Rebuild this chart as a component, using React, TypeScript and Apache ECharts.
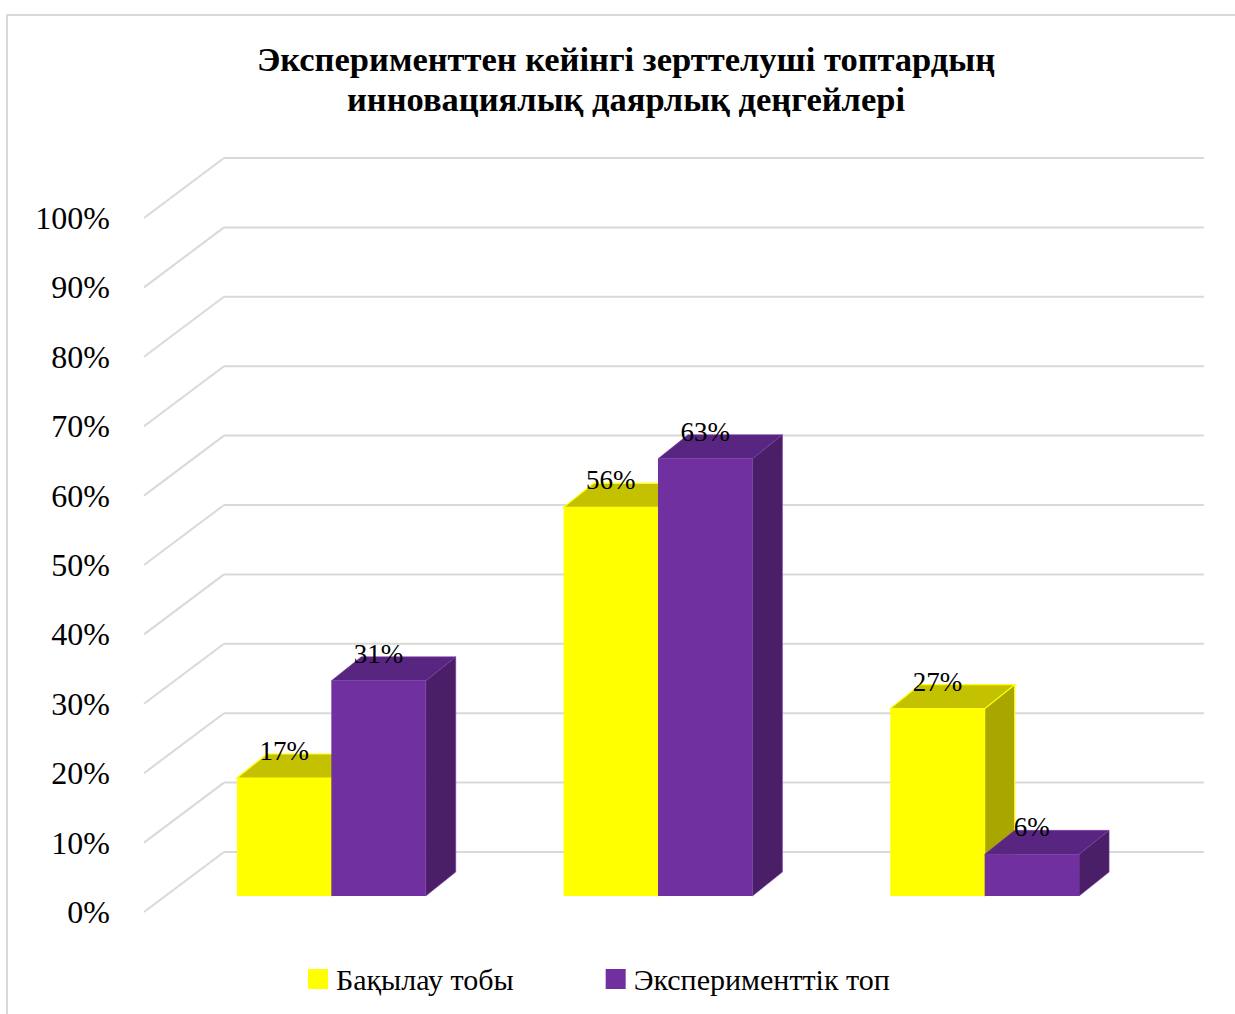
import React, { useEffect, useRef } from "react";
import * as echarts from "echarts";

const categories = ["1", "2", "3"];
const seriesNames = ["Бақылау тобы", "Эксперименттік топ"];
const controlValues = [17, 56, 27];
const experimentValues = [31, 63, 6];
const yTicks = [0, 10, 20, 30, 40, 50, 60, 70, 80, 90, 100];
const titleLines = ["Эксперименттен кейінгі зерттелуші топтардың", "инновациялық даярлық деңгейлері"];

const FONT = "'Liberation Serif', 'Times New Roman', serif";
const WALL_DX = 80;
const WALL_DY = -60;
const BAR_DX = 24;
const BAR_DY = -16;
const DEPTH_DX = 30;
const DEPTH_DY = -24;

const palettes = [
  { front: "#FFFF00", top: "#C4C200", side: "#A9A600", stroke: "#FFFF00" },
  { front: "#7030A0", top: "#582681", side: "#4B1F67", stroke: "#7A3AAA" },
];

function barRenderer(sIdx: number) {
  return (params: any, api: any) => {
    const ci = api.value(0);
    const v = api.value(1);
    const base = api.coord([ci, 0]);
    const topPt = api.coord([ci, v]);
    const bw = api.size([1, 0])[0] * 0.289;
    const x = base[0] + BAR_DX + (sIdx === 0 ? -bw : 0);
    const yB = base[1] + BAR_DY;
    const yT = topPt[1] + BAR_DY;
    const p = palettes[sIdx];
    const sw = sIdx === 0 ? 1.2 : 0.6;
    return {
      type: "group",
      children: [
        {
          type: "polygon",
          shape: { points: [[x + bw, yT], [x + bw + DEPTH_DX, yT + DEPTH_DY], [x + bw + DEPTH_DX, yB + DEPTH_DY], [x + bw, yB]] },
          style: { fill: p.side, stroke: p.stroke, lineWidth: sw },
        },
        {
          type: "polygon",
          shape: { points: [[x, yT], [x + bw, yT], [x + bw + DEPTH_DX, yT + DEPTH_DY], [x + DEPTH_DX, yT + DEPTH_DY]] },
          style: { fill: p.top, stroke: p.stroke, lineWidth: sw },
        },
        {
          type: "rect",
          shape: { x: x, y: yT, width: bw, height: yB - yT },
          style: { fill: p.front },
        },
        {
          type: "text",
          x: x + bw / 2,
          y: yT - 27,
          style: {
            text: v + "%",
            fontFamily: FONT,
            fontSize: 27,
            fill: "#000",
            align: "center",
            verticalAlign: "middle",
          },
        },
      ],
    };
  };
}

export default function App() {
  const ref = useRef<HTMLDivElement>(null);
  useEffect(() => {
    if (!ref.current) return;
    const chart = echarts.init(ref.current, null, { renderer: "svg" });
    const option: any = {
      animation: false,
      backgroundColor: "#fff",
      grid: { left: 144, top: 218, width: 980, height: 694 },
      xAxis: {
        type: "category",
        data: categories,
        show: false,
      },
      yAxis: {
        type: "value",
        min: 0,
        max: 100,
        interval: 10,
        axisLine: { show: false },
        axisTick: { show: false },
        splitLine: { show: false },
        axisLabel: {
          formatter: "{value}%",
          fontFamily: FONT,
          fontSize: 32,
          color: "#000",
          margin: 34,
        },
      },
      legend: {
        data: seriesNames,
        left: 308,
        top: 964,
        padding: 0,
        icon: "rect",
        itemWidth: 20,
        itemHeight: 20,
        itemGap: 92,
        textStyle: { fontFamily: FONT, fontSize: 30, color: "#000", padding: [0, 0, 0, 3] },
      },
      graphic: [
        {
          type: "rect",
          shape: { x: 7, y: 15, width: 1300, height: 1100 },
          style: { fill: "none", stroke: "#d9d9d9", lineWidth: 2 },
          silent: true,
        },
        {
          type: "text",
          x: 626,
          y: 79,
          style: {
            text: titleLines.join("\n"),
            fontFamily: FONT,
            fontWeight: "bold",
            fontSize: 34.5,
            lineHeight: 40,
            fill: "#000",
            align: "center",
            verticalAlign: "middle",
          },
        },
      ],
      series: [
        {
          type: "custom",
          name: "grid",
          silent: true,
          clip: false,
          z: 1,
          data: yTicks.map((t) => [0, t]),
          renderItem: (params: any, api: any) => {
            const y = api.coord([0, api.value(1)])[1];
            const cs = params.coordSys;
            const x0 = cs.x;
            const st = { stroke: "#d9d9d9", lineWidth: 2 };
            return {
              type: "group",
              children: [
                { type: "line", shape: { x1: x0, y1: y, x2: x0 + WALL_DX, y2: y + WALL_DY }, style: st },
                { type: "line", shape: { x1: x0 + WALL_DX, y1: y + WALL_DY, x2: x0 + WALL_DX + cs.width, y2: y + WALL_DY }, style: st },
              ],
            };
          },
        },
        {
          type: "custom",
          name: seriesNames[0],
          clip: false,
          z: 2,
          itemStyle: { color: palettes[0].front },
          data: controlValues.map((v, i) => [i, v]),
          renderItem: barRenderer(0),
        },
        {
          type: "custom",
          name: seriesNames[1],
          clip: false,
          z: 3,
          itemStyle: { color: palettes[1].front },
          data: experimentValues.map((v, i) => [i, v]),
          renderItem: barRenderer(1),
        },
      ],
    };
    chart.setOption(option);
    return () => chart.dispose();
  }, []);
  return (
    <div
      ref={ref}
      style={{ position: "absolute", left: 0, top: 0, width: 1235, height: 1014 }}
    />
  );
}
